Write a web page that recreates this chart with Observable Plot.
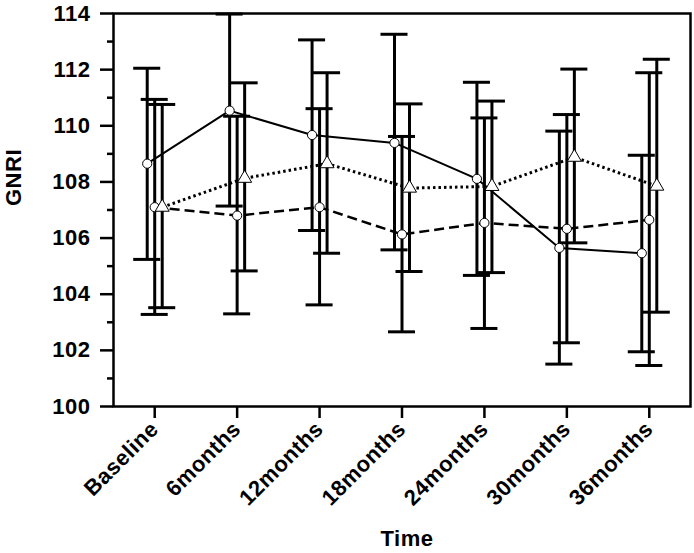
<!DOCTYPE html>
<html>
<head>
<meta charset="utf-8">
<script src="https://cdn.jsdelivr.net/npm/d3@7"></script>
<script src="https://cdn.jsdelivr.net/npm/@observablehq/plot@0.6"></script>
<style>
  html, body { margin: 0; padding: 0; background: #fff; }
  #chart svg { display: block; }
</style>
</head>
<body>
<div id="chart"></div>
<script>
const timeLabels = ["Baseline", "6months", "12months", "18months", "24months", "30months", "36months"];

// Series A: solid line, circles
const solidMean = [108.65, 110.54, 109.67, 109.39, 108.11, 105.65, 105.46];
const solidHigh = [112.05, 113.98, 113.06, 113.26, 111.55, 109.81, 108.95];
const solidLow  = [105.24, 107.14, 106.27, 105.58, 104.67, 101.51, 101.95];

// Series B: dashed line, circles
const dashedMean = [107.10, 106.80, 107.10, 106.13, 106.54, 106.33, 106.65];
const dashedHigh = [110.94, 110.34, 110.61, 109.62, 110.28, 110.40, 111.89];
const dashedLow  = [103.28, 103.30, 103.62, 102.66, 102.78, 102.27, 101.46];

// Series C: dotted line, triangles
const dottedMean = [107.10, 108.13, 108.65, 107.78, 107.84, 108.88, 107.85];
const dottedHigh = [110.76, 111.53, 111.89, 110.78, 110.88, 112.02, 112.37];
const dottedLow  = [103.52, 104.83, 105.46, 104.81, 104.77, 105.83, 103.36];

const yMajorTicks = [100, 102, 104, 106, 108, 110, 112, 114];
const yMinorTicks = [101, 103, 105, 107, 109, 111, 113];

const xTitle = "Time";
const yTitle = "GNRI";

const series = [
  {mean: solidMean, high: solidHigh, low: solidLow, dx: -7.5, dash: null, width: 2, symbol: "circle", r: 4.6},
  {mean: dashedMean, high: dashedHigh, low: dashedLow, dx: 0, dash: "10,5", width: 2.5, symbol: "circle", r: 4.6},
  {mean: dottedMean, high: dottedHigh, low: dottedLow, dx: 7.5, dash: "2.5,3", width: 3, symbol: "triangle", r: 5.2}
];

function rows(s) {
  return timeLabels.map((t, i) => ({i, mean: s.mean[i], high: s.high[i], low: s.low[i]}));
}

const font = "'Liberation Sans', Arial, sans-serif";
const capHalf = 0.164;
const marks = [];
for (const s of series) {
  const d = rows(s);
  marks.push(Plot.ruleX(d, {x: "i", y1: "low", y2: "high", dx: s.dx, stroke: "black", strokeWidth: 3}));
  marks.push(Plot.ruleY(d, {x1: r => r.i - capHalf, x2: r => r.i + capHalf, y: "high", dx: s.dx, stroke: "black", strokeWidth: 3}));
  marks.push(Plot.ruleY(d, {x1: r => r.i - capHalf, x2: r => r.i + capHalf, y: "low", dx: s.dx, stroke: "black", strokeWidth: 3}));
}
for (const s of series) {
  const d = rows(s);
  marks.push(Plot.line(d, {x: "i", y: "mean", dx: s.dx, stroke: "black", strokeWidth: s.width, strokeDasharray: s.dash, strokeLinecap: "butt"}));
}
for (const s of series) {
  const d = rows(s);
  marks.push(Plot.dot(d, {x: "i", y: "mean", dx: s.dx, symbol: s.symbol, r: s.r, fill: "white", stroke: "black", strokeWidth: 1}));
}

const chart = Plot.plot({
  width: 694,
  height: 553,
  marginLeft: 113,
  marginRight: 4,
  marginTop: 13,
  marginBottom: 147,
  style: {fontFamily: font, fontSize: "22px", fontWeight: "bold", color: "black", background: "white", letterSpacing: "0.5px"},
  x: {domain: [-0.5, timeLabels.length - 0.5]},
  y: {domain: [100, 114]},
  marks: [
    Plot.axisY({ticks: yMajorTicks, tickSize: 13, tickPadding: 10, strokeWidth: 2.5, fontSize: 22, label: null}),
    Plot.axisY({ticks: yMinorTicks, tickSize: 6, tickFormat: () => "", strokeWidth: 2.5, label: null}),
    Plot.axisX({ticks: d3.range(timeLabels.length), tickFormat: i => timeLabels[i], tickSize: 12, tickPadding: 7, tickRotate: -45, strokeWidth: 2.5, fontSize: 22, label: null}),
    Plot.text([xTitle], {frameAnchor: "bottom", dx: 5, dy: 139, fontSize: 22, fontWeight: "bold", fill: "black"}),
    Plot.text([yTitle], {frameAnchor: "left", dx: -100, dy: -4, rotate: -90, fontSize: 22, fontWeight: "bold", fill: "black"}),
    ...marks,
    Plot.frame({stroke: "black", strokeWidth: 2.5})
  ]
});
document.getElementById("chart").appendChild(chart);
</script>
</body>
</html>
